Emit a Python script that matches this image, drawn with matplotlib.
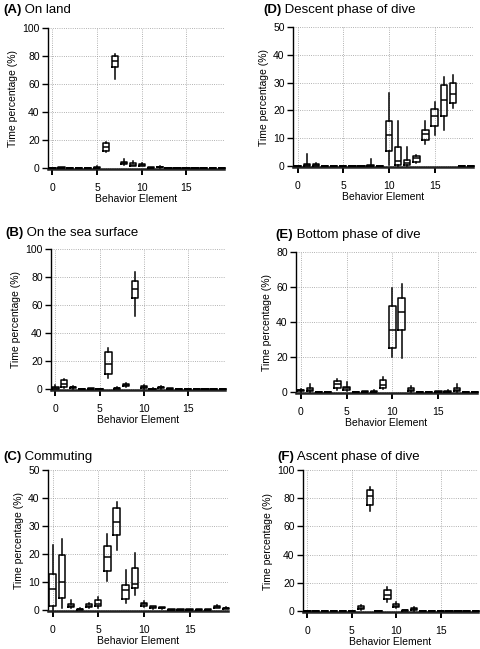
import matplotlib
matplotlib.use('Agg')
import matplotlib.pyplot as plt

plt.rcParams['font.family'] = ['Liberation Sans', 'DejaVu Sans']

W, H = 481, 649
elements = list(range(20))

# (A) On land: lower whisker, q1, median, q3, upper whisker
land_lo  = [0, 0, 0, 0, 0, 0, 11.5, 63.6, 2.2, 1.2, 1.0, 0, 0, 0, 0, 0, 0, 0, 0, 0]
land_q1  = [0, 0, 0, 0, 0, 0, 12.2, 71.8, 2.6, 1.6, 1.3, 0, 0.3, 0, 0, 0, 0, 0, 0, 0]
land_med = [0, 0.2, 0, 0, 0, 0.2, 15.0, 76.5, 3.2, 2.4, 2.0, 0.2, 0.6, 0, 0, 0, 0, 0, 0, 0]
land_q3  = [0, 0.5, 0, 0, 0, 0.5, 17.9, 79.7, 4.0, 3.3, 2.7, 0.4, 0.9, 0, 0, 0, 0, 0, 0, 0]
land_hi  = [0, 0.8, 0, 0, 0, 1.0, 18.5, 81.6, 6.0, 5.0, 3.5, 0.6, 1.2, 0, 0, 0, 0, 0, 0, 0]

# (B) On the sea surface
surf_lo  = [0, 0.5, 0, 0, 0, 0, 8.0, 0, 1.0, 52.2, 0, 0, 0, 0, 0, 0, 0, 0, 0, 0]
surf_q1  = [0, 1.2, 0.5, 0, 0, 0, 10.5, 0, 1.8, 65.3, 0.5, 0, 0.8, 0, 0, 0, 0, 0, 0, 0]
surf_med = [0.3, 3.5, 1.0, 0, 0.2, 0, 18.0, 0.3, 2.7, 71.3, 1.2, 0.1, 1.1, 0.2, 0, 0, 0, 0, 0, 0]
surf_q3  = [1.0, 6.0, 1.5, 0, 0.4, 0, 26.5, 0.8, 3.8, 76.8, 2.0, 0.2, 1.5, 0.3, 0, 0, 0, 0, 0, 0]
surf_hi  = [3.0, 7.0, 1.8, 0, 0.5, 0, 29.5, 1.5, 4.5, 83.3, 3.0, 0.3, 1.8, 0.5, 0, 0, 0, 0, 0, 0]

# (C) Commuting
comm_lo  = [0, 0.5, 0.5, 0, 0.5, 0.5, 10.3, 21.3, 2.5, 5.2, 1.0, 0.4, 0.3, 0, 0, 0, 0, 0, 0.6, 0.2]
comm_q1  = [1.5, 4.2, 1.0, 0, 1.0, 1.3, 14.0, 26.7, 4.0, 7.7, 1.5, 0.7, 0.5, 0, 0, 0, 0, 0, 0.8, 0.4]
comm_med = [7.3, 9.8, 1.3, 0.2, 1.5, 2.2, 19.0, 31.4, 7.2, 9.4, 2.0, 1.0, 0.7, 0.1, 0.1, 0.1, 0.1, 0.1, 1.1, 0.6]
comm_q3  = [13.0, 19.5, 2.0, 0.3, 2.0, 3.6, 23.0, 36.5, 8.8, 15.0, 2.5, 1.3, 1.0, 0.2, 0.2, 0.2, 0.2, 0.2, 1.5, 0.8]
comm_hi  = [23.3, 25.5, 3.5, 0.5, 2.5, 4.5, 27.3, 38.6, 14.2, 20.2, 3.0, 1.5, 1.2, 0.3, 0.3, 0.3, 0.3, 0.3, 1.7, 1.0]

# (D) Descent phase of dive
desc_lo  = [0, 0, 0, 0, 0, 0, 0, 0, 0, 0, 0.5, 0, 0, 1.0, 8.0, 11.2, 13.0, 21.0, 0, 0]
desc_q1  = [0, 0, 0, 0, 0, 0, 0, 0, 0, 0, 5.5, 0.3, 0.3, 1.5, 9.5, 14.2, 17.8, 22.8, 0, 0]
desc_med = [0, 0.3, 0.2, 0, 0, 0, 0, 0, 0, 0, 11.0, 1.8, 1.0, 2.7, 11.5, 18.0, 23.6, 26.0, 0, 0]
desc_q3  = [0, 0.8, 0.6, 0, 0, 0, 0, 0, 0.3, 0, 16.0, 6.7, 2.0, 3.6, 12.8, 20.6, 29.0, 30.0, 0, 0]
desc_hi  = [0, 4.3, 1.0, 0, 0, 0, 0, 0, 2.5, 0, 26.3, 16.0, 6.7, 4.0, 16.0, 23.0, 32.0, 32.8, 0, 0]

# (E) Bottom phase of dive
bott_lo  = [0, 0, 0, 0, 1.0, 0.3, 0, 0, 0, 1.5, 20.0, 19.4, 0, 0, 0, 0, 0, 0, 0, 0]
bott_q1  = [0.3, 0.3, 0, 0, 2.5, 1.0, 0, 0, 0, 2.5, 25.3, 35.4, 0.5, 0, 0, 0, 0, 0.5, 0, 0]
bott_med = [0.8, 1.0, 0, 0, 4.3, 2.0, 0, 0.2, 0.2, 4.0, 35.4, 45.7, 1.2, 0, 0, 0.2, 0.1, 1.3, 0, 0]
bott_q3  = [1.3, 2.3, 0, 0, 6.0, 3.0, 0, 0.3, 0.3, 7.0, 49.3, 53.9, 2.0, 0, 0, 0.3, 0.3, 2.5, 0, 0]
bott_hi  = [1.5, 4.4, 0, 0, 7.5, 5.5, 0, 0.5, 1.0, 8.5, 59.6, 61.7, 3.5, 0, 0, 0.5, 1.0, 4.5, 0, 0]

# (F) Ascent phase of dive
asc_lo  = [0, 0, 0, 0, 0, 0, 0.5, 71.0, 0, 6.0, 2.0, 0, 0, 0, 0, 0, 0, 0, 0, 0]
asc_q1  = [0, 0, 0, 0, 0, 0, 1.0, 75.0, 0, 8.6, 2.5, 0, 0.5, 0, 0, 0, 0, 0, 0, 0]
asc_med = [0, 0, 0, 0, 0, 0, 2.2, 81.3, 0, 11.5, 3.5, 0.3, 1.2, 0, 0, 0, 0, 0, 0, 0]
asc_q3  = [0, 0, 0, 0, 0, 0, 3.5, 86.0, 0, 15.0, 5.0, 0.5, 2.0, 0, 0, 0, 0, 0, 0, 0]
asc_hi  = [0, 0, 0, 0, 0, 0, 4.0, 88.0, 0, 17.0, 6.0, 0.7, 2.5, 0, 0, 0, 0, 0, 0, 0]

panels = [
    # letter, title, ymax, ystep, data, axes box in pixels (left, right, top, bottom), title pos
    ('(A)', 'On land', 100, 20, (land_lo, land_q1, land_med, land_q3, land_hi), (48, 224, 28, 169), (3, 10)),
    ('(B)', 'On the sea surface', 100, 20, (surf_lo, surf_q1, surf_med, surf_q3, surf_hi), (51, 225, 249, 390), (5, 233)),
    ('(C)', 'Commuting', 50, 10, (comm_lo, comm_q1, comm_med, comm_q3, comm_hi), (48, 228, 470, 611), (3, 457)),
    ('(D)', 'Descent phase of dive', 50, 10, (desc_lo, desc_q1, desc_med, desc_q3, desc_hi), (293, 473, 27, 167), (263, 10)),
    ('(E)', 'Bottom phase of dive', 80, 20, (bott_lo, bott_q1, bott_med, bott_q3, bott_hi), (296, 477, 252, 393), (275, 235)),
    ('(F)', 'Ascent phase of dive', 100, 20, (asc_lo, asc_q1, asc_med, asc_q3, asc_hi), (303, 478, 470, 612), (277, 457)),
]

fig = plt.figure(figsize=(W / 100, H / 100), dpi=100)

for letter, title, ymax, ystep, data, box, tpos in panels:
    l, r, t, b = box
    ax = fig.add_axes([l / W, 1 - b / H, (r - l) / W, (b - t) / H])
    lo, q1, med, q3, hi = data
    stats = []
    for i in range(len(elements)):
        stats.append({'whislo': lo[i], 'q1': q1[i], 'med': med[i], 'q3': q3[i], 'whishi': hi[i]})
    res = ax.bxp(stats, positions=elements, widths=0.7, showfliers=False, showcaps=False,
                 boxprops=dict(color='black', linewidth=1.1),
                 whiskerprops=dict(color='black', linewidth=1.1),
                 medianprops=dict(color='black', linewidth=1.1))
    for key in res:
        for art in res[key]:
            art.set_clip_on(False)
            art.set_zorder(4)

    ax.set_xlim(-0.5, 19.2)
    # axis line sits just under zero, like the original
    ax.set_ylim(-ymax * 0.008, ymax)
    ax.set_xticks([0, 5, 10, 15])
    ax.set_xticklabels(['0', '5', '10', '15'])
    ax.set_yticks(list(range(0, ymax + 1, ystep)))
    ax.grid(True, linestyle=':', color='#999999', linewidth=0.6)
    ax.set_axisbelow(True)
    ax.spines['top'].set_visible(False)
    ax.spines['right'].set_visible(False)
    ax.spines['left'].set_linewidth(1.0)
    ax.spines['bottom'].set_color('#222222')
    ax.spines['bottom'].set_linewidth(1.8)
    ax.spines['bottom'].set_zorder(3)
    ax.tick_params(axis='both', direction='out', length=4, width=1.0, labelsize=7.5, pad=2)
    ax.tick_params(axis='x', width=1.4, pad=6)
    ax.set_xlabel('Behavior Element', fontsize=7.5, labelpad=1)
    ax.set_ylabel('Time percentage (%)', fontsize=7.5, labelpad=3)

    # panel title: bold letter followed by normal text
    tl = fig.text(tpos[0] / W, 1 - tpos[1] / H, letter, fontsize=9.5, fontweight='bold', va='center', ha='left')
    ax.annotate(' ' + title, xy=(1, 0), xycoords=tl, va='bottom', ha='left', fontsize=9.5,
                annotation_clip=False)

fig.savefig('out.png', dpi=100)
